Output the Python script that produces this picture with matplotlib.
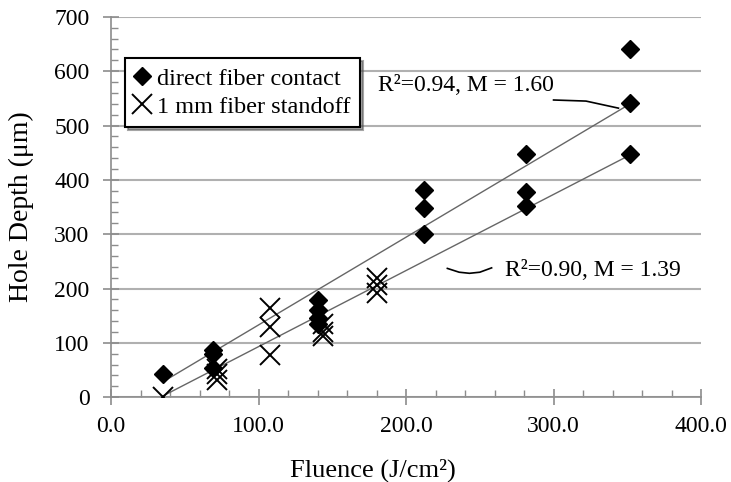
import numpy as np
from matplotlib import pyplot as plt

plt.rcParams['font.family'] = ['Liberation Serif', 'DejaVu Serif']

# direct fiber contact
direct_x = [35, 69, 69, 69, 140, 140, 140, 140, 212, 212, 212, 281, 281, 281, 352, 352, 352]
direct_y = [42, 87, 80, 53, 178, 160, 145, 135, 381, 348, 300, 447, 378, 352, 640, 542, 448]

# 1 mm fiber standoff
standoff_x = [35, 72, 72, 72, 108, 108, 108, 144, 144, 144, 180, 180, 180]
standoff_y = [0, 52, 42, 32, 164, 129, 77, 134, 120, 112, 220, 206, 191]

# trendline ends
trend_x = [35, 352]
trend_direct = [28, 540]
trend_standoff = [2, 446]

label_direct = 'R\u00b2=0.94, M = 1.60'
label_standoff = 'R\u00b2=0.90, M = 1.39'

fig = plt.figure(figsize=(7.31, 4.82), dpi=100)
ax = fig.add_axes([0.152, 0.176, 0.807, 0.789])

gray = '#8c8c8c'
ax.set_xlim(0, 400)
ax.set_ylim(0, 700)
ax.set_xticks(np.arange(0, 401, 100))
ax.set_xticks(np.arange(0, 401, 20), minor=True)
ax.set_yticks(np.arange(0, 701, 100))
ax.set_yticks(np.arange(0, 701, 20), minor=True)
ax.set_xticklabels(['%.1f' % v for v in np.arange(0, 401, 100)])
ax.yaxis.grid(True, color='#b0b0b0', lw=1.5)
ax.set_axisbelow(True)
for s in ['top', 'right']:
    ax.spines[s].set_visible(False)
for s in ['left', 'bottom']:
    ax.spines[s].set_color(gray)
    ax.spines[s].set_linewidth(1.2)
ax.tick_params(which='major', direction='inout', length=11, color=gray, width=1.2,
               labelsize=17)
ax.tick_params(axis='y', which='major', pad=10)
ax.tick_params(axis='x', which='major', pad=8)
ax.tick_params(which='minor', direction='in', length=5, color=gray, width=1)

ax.plot(trend_x, trend_direct, color='#666666', lw=1, zorder=2)
ax.plot(trend_x, trend_standoff, color='#666666', lw=1, zorder=2)

ax.plot(direct_x, direct_y, 'D', color='black', ms=9, ls='none', zorder=3,
        label='direct fiber contact')
ax.plot(standoff_x, standoff_y, 'x', color='black', ms=14, mew=1.4, ls='none', zorder=3,
        label='1 mm fiber standoff')

ax.text(181, 573, label_direct, fontsize=17, va='center', ha='left')
ax.plot([300, 322, 344], [547, 545, 532], color='black', lw=1.2)
ax.text(267, 233, label_standoff, fontsize=17, va='center', ha='left')
ax.plot([228, 236, 243, 250, 258], [237, 230, 228, 230, 238], color='black', lw=1.2)

ax.set_xlabel('Fluence (J/cm\u00b2)', fontsize=19)
ax.xaxis.set_label_coords(0.444, -0.162)
ax.set_ylabel('Hole Depth (\u03bcm)', fontsize=20)
ax.yaxis.set_label_coords(-0.13, 0.5)

leg = ax.legend(loc='upper left', bbox_to_anchor=(0.024, 0.892), fontsize=17.5,
                frameon=True, fancybox=False, shadow=True, handlelength=0.6,
                handletextpad=0.3, borderpad=0.4, labelspacing=0.25, borderaxespad=0)
leg.get_frame().set_edgecolor('black')
leg.get_frame().set_linewidth(1.5)

fig.savefig('out.png', dpi=100)
